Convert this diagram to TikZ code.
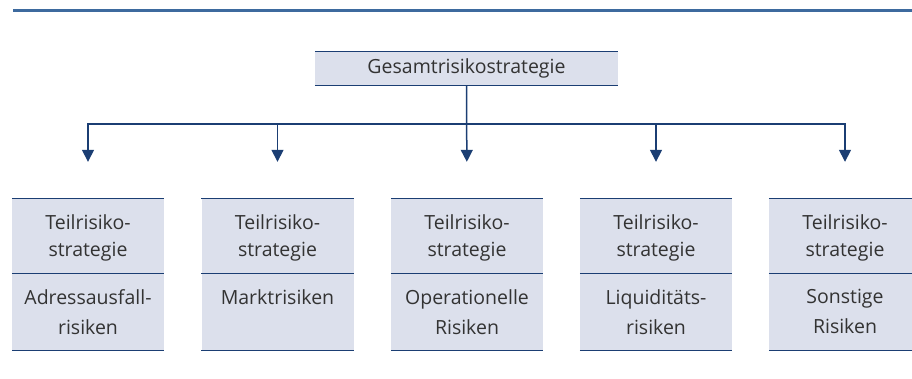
\documentclass[tikz,border=0pt]{standalone}
\usepackage{fontspec}
\setmainfont{Open Sans}
\usetikzlibrary{arrows.meta}
\definecolor{navy}{HTML}{1B3E73}
\definecolor{boxfill}{HTML}{DCE0EC}
\definecolor{rule}{HTML}{3D6A9E}
\definecolor{txt}{HTML}{333333}
\tikzset{
  boxpart/.style={fill=boxfill, inner sep=0pt, minimum width=152pt, align=center, text=txt,
    font=\fontsize{19.5}{27}\selectfont},
  lowpart/.style={boxpart, font=\fontsize{19.5}{30}\selectfont},
  sepline/.style={draw=navy, line width=1.2pt},
  conn/.style={draw=navy, line width=1.5pt},
  arr/.style={conn, -{Triangle[width=12pt,length=12pt]}, shorten >=37pt},
}
\begin{document}
\begin{tikzpicture}[x=1pt,y=-1pt]
\useasboundingbox (0,0) rectangle (912,378);
\begin{scope}
\clip (0,0) rectangle (912,378);
% top rule
\coordinate (rl) at (13,10.7);
\coordinate (rr) at (912,10.7);
\draw[rule, line width=2.5pt] (rl) -- (rr);
% top box
\node[boxpart, minimum width=303pt, minimum height=33pt] (top) at (466.5,68.5) {Gesamtrisikostrategie};
\draw[sepline] (top.north west) -- (top.north east);
\draw[sepline] (top.south west) -- (top.south east);
% bus
\coordinate (bus) at (466.5,124);
% lower boxes
\foreach \i/\x/\lower in {1/88/{Adressausfall-\\risiken},2/277.5/{Marktrisiken\\\phantom{risiken}},3/467/{Operationelle\\Risiken},4/656/{Liquiditäts-\\risiken},5/845/{Sonstige\\Risiken}}{
  \node[boxpart, minimum height=74pt] (t\i) at (\x,236) {};
  \node[text=txt, align=center, font=\fontsize{19.5}{27}\selectfont] (tt\i) at ([yshift=-2pt]t\i.center) {Teilrisiko-\\strategie};
  \node[lowpart, minimum height=77pt, anchor=north] (l\i) at (t\i.south) {\lower};
  \draw[sepline] (t\i.north west) -- (t\i.north east);
  \draw[sepline] (t\i.south west) -- (t\i.south east);
  \draw[sepline] (l\i.south west) -- (l\i.south east);
}
% connectors
\draw[arr] (top.south) -- (t3.north);
\draw[arr] (bus) -| (t1.north);
\draw[arr] (bus) -| (t5.north);
\draw[arr] (bus -| t2.north) -- (t2.north);
\draw[arr] (bus -| t4.north) -- (t4.north);
\end{scope}
\end{tikzpicture}
\end{document}
